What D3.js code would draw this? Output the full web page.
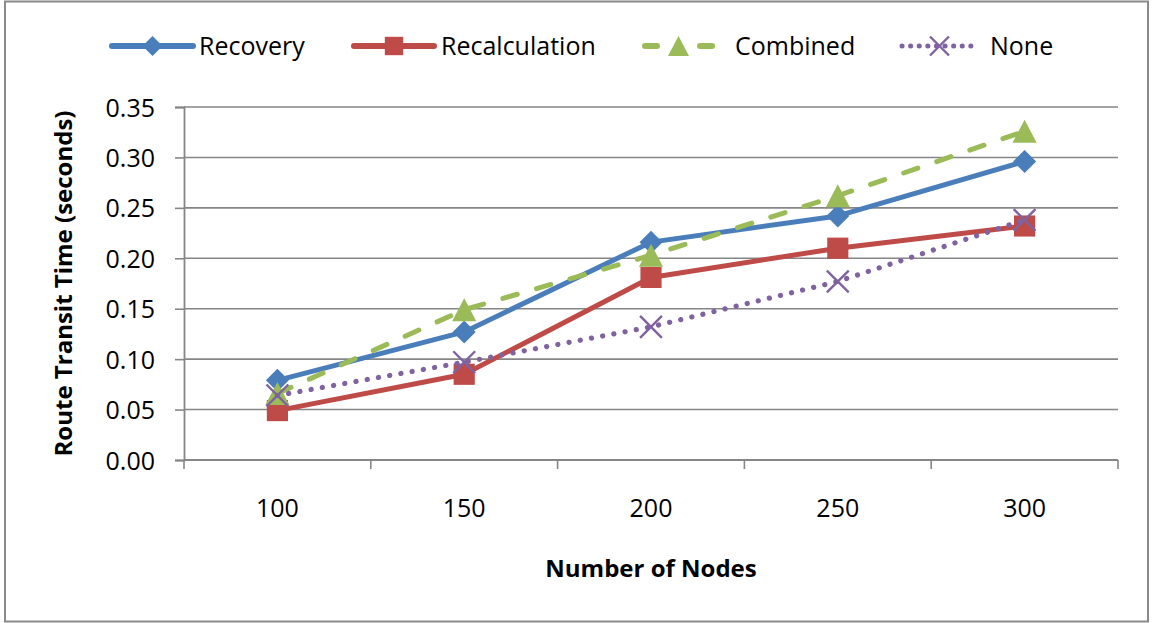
<!DOCTYPE html>
<html>
<head>
<meta charset="utf-8">
<script src="https://cdn.jsdelivr.net/npm/d3@7"></script>
<style>
  html, body { margin: 0; padding: 0; background: #fff; }
  svg { display: block; }
  text { font-family: "Open Sans", "Liberation Sans", sans-serif; fill: #000; }
</style>
</head>
<body>
<svg id="chart" width="1153" height="623"></svg>
<script>
// ---- data ----
const categories = ["100", "150", "200", "250", "300"];
const recovery      = [0.079, 0.127, 0.216, 0.242, 0.296];
const recalculation = [0.049, 0.085, 0.181, 0.210, 0.232];
const combined      = [0.066, 0.149, 0.203, 0.262, 0.326];
const none          = [0.064, 0.097, 0.132, 0.177, 0.238];
const yTicks = [0, 0.05, 0.10, 0.15, 0.20, 0.25, 0.30, 0.35];
const seriesNames = ["Recovery", "Recalculation", "Combined", "None"];

// ---- styles ----
const styles = {
  Recovery:      { color: "#4A7EBB", dash: null,       width: 5,   marker: "diamond" },
  Recalculation: { color: "#BE4B48", dash: null,       width: 5,   marker: "square" },
  Combined:      { color: "#9BBB59", dash: "15 20",    width: 5,   marker: "triangle" },
  None:          { color: "#7F63A1", dash: "0.1 11.3", width: 5.2, marker: "x" }
};
const series = [
  { name: "Recovery", values: recovery },
  { name: "Recalculation", values: recalculation },
  { name: "Combined", values: combined },
  { name: "None", values: none }
];

const svg = d3.select("#chart");
const plot = { left: 184, right: 1118, top: 107, bottom: 460 };
const gridColor = "#868686";

// frame
svg.append("rect").attr("x", 5).attr("y", 1.5).attr("width", 1143).attr("height", 620)
  .attr("fill", "#fff").attr("stroke", "#8a8a8a").attr("stroke-width", 2);

const x = d3.scaleBand().domain(categories).range([plot.left, plot.right]).padding(0);
const y = d3.scaleLinear().domain([0, 0.35]).range([plot.bottom, plot.top]);

// gridlines
svg.append("g").selectAll("line").data(yTicks.slice(1)).join("line")
  .attr("x1", plot.left).attr("x2", plot.right)
  .attr("y1", d => y(d)).attr("y2", d => y(d))
  .attr("stroke", gridColor).attr("stroke-width", 1.6);

// y axis
const yAxis = d3.axisLeft(y).tickValues(yTicks).tickFormat(d3.format(".2f")).tickSize(9).tickPadding(20);
const gy = svg.append("g").attr("transform", `translate(${plot.left},0)`).call(yAxis);
gy.select(".domain").attr("stroke", gridColor).attr("stroke-width", 1.8);
gy.selectAll(".tick line").attr("stroke", gridColor).attr("stroke-width", 1.6);
gy.selectAll(".tick text").attr("font-size", 25).attr("font-family", "Open Sans").attr("fill", "#000")
  .attr("dy", "0.36em").attr("x", -29);

// x axis (ticks at category boundaries)
svg.append("line").attr("x1", plot.left).attr("x2", plot.right)
  .attr("y1", plot.bottom).attr("y2", plot.bottom).attr("stroke", gridColor).attr("stroke-width", 2);
const boundaries = categories.map(c => x(c)).concat([x(categories[categories.length - 1]) + x.bandwidth()]);
svg.append("g").selectAll("line").data(boundaries).join("line")
  .attr("x1", d => d).attr("x2", d => d).attr("y1", plot.bottom).attr("y2", plot.bottom + 9)
  .attr("stroke", gridColor).attr("stroke-width", 1.6);
svg.append("g").selectAll("text").data(categories).join("text")
  .attr("x", d => x(d) + x.bandwidth() / 2).attr("y", 517)
  .attr("text-anchor", "middle").attr("font-size", 25).text(d => d);

// axis titles
svg.append("text").attr("x", (plot.left + plot.right) / 2).attr("y", 577)
  .attr("text-anchor", "middle").attr("font-size", 24).attr("font-weight", "bold").text("Number of Nodes");
svg.append("text").attr("transform", `translate(72,${(plot.top + plot.bottom) / 2}) rotate(-90)`)
  .attr("text-anchor", "middle").attr("font-size", 24).attr("font-weight", "bold")
  .text("Route Transit Time (seconds)");

// marker shapes (relative to center)
function markerPath(type, s) {
  const p = d3.path();
  const h = s / 2;
  if (type === "diamond") {
    p.moveTo(0, -h); p.lineTo(h, 0); p.lineTo(0, h); p.lineTo(-h, 0); p.closePath();
  } else if (type === "square") {
    p.rect(-h * 0.92, -h * 0.92, s * 0.92, s * 0.92);
  } else if (type === "triangle") {
    p.moveTo(0, -h); p.lineTo(h * 1.05, h); p.lineTo(-h * 1.05, h); p.closePath();
  } else if (type === "x") {
    const k = h * 0.95;
    p.moveTo(-k, -k); p.lineTo(k, k); p.moveTo(k, -k); p.lineTo(-k, k);
  }
  return p.toString();
}
function drawMarker(g, type, color, size) {
  const path = g.append("path").attr("d", markerPath(type, size));
  if (type === "x") path.attr("fill", "none").attr("stroke", color).attr("stroke-width", 2.4);
  else path.attr("fill", color).attr("stroke", "none");
}

const line = d3.line().x((d, i) => x(categories[i]) + x.bandwidth() / 2).y(d => y(d));

series.forEach(s => {
  const st = styles[s.name];
  const g = svg.append("g");
  const path = g.append("path").attr("d", line(s.values)).attr("fill", "none")
    .attr("stroke", st.color).attr("stroke-width", st.width)
    .attr("stroke-linejoin", "round").attr("stroke-linecap", "round");
  if (st.dash) path.attr("stroke-dasharray", st.dash);
  s.values.forEach((v, i) => {
    const mg = g.append("g").attr("transform", `translate(${x(categories[i]) + x.bandwidth() / 2},${y(v)})`);
    drawMarker(mg, st.marker, st.color, 23);
  });
});

// legend
const legendLayout = { y: 46, starts: [112, 354, 645, 902], lineLen: [81, 80, 67, 75], textX: [199, 441, 735, 990] };
seriesNames.forEach((name, i) => {
  const st = styles[name];
  const g = svg.append("g");
  const x0 = legendLayout.starts[i], len = legendLayout.lineLen[i];
  const ln = g.append("line").attr("x1", x0).attr("x2", x0 + len)
    .attr("y1", legendLayout.y).attr("y2", legendLayout.y)
    .attr("stroke", st.color).attr("stroke-width", name === "None" ? 5 : 6)
    .attr("stroke-linecap", "round");
  if (name === "Combined") ln.attr("stroke-dasharray", "12 43 12");
  if (name === "None") ln.attr("stroke-dasharray", "0.1 8.5");
  const mg = g.append("g").attr("transform", `translate(${x0 + len / 2},${legendLayout.y})`);
  drawMarker(mg, st.marker, st.color, 20);
  g.append("text").attr("x", legendLayout.textX[i]).attr("y", legendLayout.y + 9)
    .attr("font-size", 25).text(name);
});
</script>
</body>
</html>
